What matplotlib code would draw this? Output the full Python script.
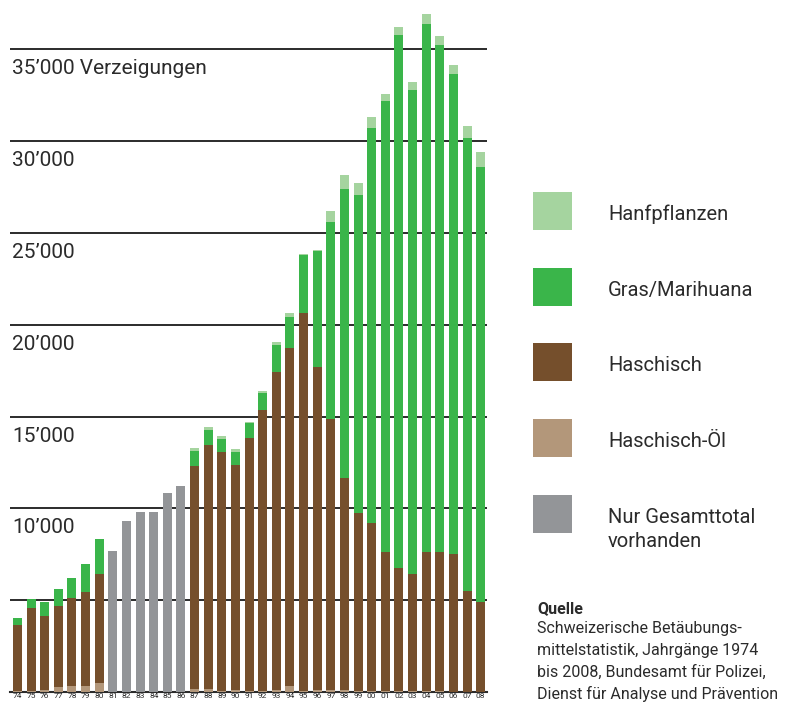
import matplotlib.pyplot as plt
from matplotlib.patches import Rectangle
import numpy as np

plt.rcParams['font.family'] = ['Roboto', 'DejaVu Sans']

# years 1974 - 2008
years = ['74', '75', '76', '77', '78', '79', '80', '81', '82', '83', '84', '85',
         '86', '87', '88', '89', '90', '91', '92', '93', '94', '95', '96', '97',
         '98', '99', '00', '01', '02', '03', '04', '05', '06', '07', '08']

# verzeigungen per substance
oil = [70, 50, 130, 290, 330, 330, 500, 0, 0, 0, 0, 0, 0,
       160, 160, 60, 110, 60, 60, 110, 330, 60, 110, 110, 110, 60,
       50, 50, 50, 50, 60, 60, 20, 0, 20]
haschisch = [3580, 4520, 4010, 4390, 4790, 5120, 5930, 0, 0, 0, 0, 0, 0,
             12140, 13290, 13010, 12250, 13770, 15300, 17320, 18410, 20580,
             17590, 14760, 11550, 9690, 9150, 7580, 6700, 6380, 7570, 7570,
             7500, 5500, 4880]
gras = [380, 500, 760, 920, 1080, 1520, 1900, 0, 0, 0, 0, 0, 0,
        830, 820, 710, 710, 820, 930, 1470, 1680, 3160, 6300, 10730, 15740,
        17320, 21520, 24560, 29030, 26360, 28750, 27610, 26140, 24670, 23700]
hanf = [0, 0, 0, 0, 0, 0, 0, 0, 0, 0, 0, 0, 0,
        170, 160, 160, 170, 50, 100, 160, 220, 60, 70, 600, 760, 650,
        600, 380, 440, 430, 550, 490, 490, 660, 810]
# only the total is known for 1981 - 1986
total_only = [0, 0, 0, 0, 0, 0, 0, 7680, 9310, 9800, 9800, 10840, 11200,
              0, 0, 0, 0, 0, 0, 0, 0, 0, 0, 0, 0, 0,
              0, 0, 0, 0, 0, 0, 0, 0, 0]

grid_values = [5000, 10000, 15000, 20000, 25000, 30000, 35000]
grid_labels = ['', '10\u2019000', '15\u2019000', '20\u2019000', '25\u2019000',
               '30\u2019000', '35\u2019000 Verzeigungen']

legend_labels = [['Hanfpflanzen'], ['Gras/Marihuana'], ['Haschisch'], ['Haschisch-\u00d6l'],
                 ['Nur Gesamttotal', 'vorhanden']]

c_hanf = '#a5d49f'
c_gras = '#3ab54a'
c_hasch = '#754f2c'
c_oil = '#b3977a'
c_gray = '#939598'
c_text = '#2b2b2b'

fig = plt.figure(figsize=(7.86, 7.02), dpi=100)
ax = fig.add_axes([10 / 786, 10 / 702, 477 / 786, 692 / 702])

x = np.arange(len(years))
oil_a = np.array(oil)
hasch_a = np.array(haschisch)
gras_a = np.array(gras)
hanf_a = np.array(hanf)
w = 0.66

ax.bar(x, oil_a, w, color=c_oil, lw=0, zorder=2)
ax.bar(x, hasch_a, w, bottom=oil_a, color=c_hasch, lw=0, zorder=2)
ax.bar(x, gras_a, w, bottom=oil_a + hasch_a, color=c_gras, lw=0, zorder=2)
ax.bar(x, hanf_a, w, bottom=oil_a + hasch_a + gras_a, color=c_hanf, lw=0, zorder=2)
ax.bar(x, total_only, w, color=c_gray, lw=0, zorder=2)

# horizontal lines with labels under them
ax.axhline(0, color=c_text, lw=1.5, zorder=1, clip_on=False)
for v, lab in zip(grid_values, grid_labels):
    ax.axhline(v, color=c_text, lw=1.4, zorder=1)
    ax.annotate(lab, xy=(0, v), xycoords=('axes fraction', 'data'),
                xytext=(2, -10), textcoords='offset pixels', va='top', ha='left',
                fontsize=15, color=c_text)

ax.set_xlim(-0.55, 34.46)
ax.set_ylim(0, 37690)
ax.set_xticks(x, years)
ax.tick_params(axis='x', length=0, pad=1, labelsize=6, labelcolor=c_text)
ax.set_yticks([])
for s in ax.spines.values():
    s.set_visible(False)

# legend and source in pixel coordinates
lg = fig.add_axes([0, 0, 1, 1])
lg.set_xlim(0, 786)
lg.set_ylim(702, 0)
lg.axis('off')
for i, (c, lines) in enumerate(zip([c_hanf, c_gras, c_hasch, c_oil, c_gray], legend_labels)):
    top = 192 + i * 75.7
    lg.add_patch(Rectangle((533, top), 39, 38, color=c, lw=0))
    for j, line in enumerate(lines):
        lg.text(608, top + 28 + j * 24, line, fontsize=14.5, color=c_text,
                va='baseline', ha='left')

lg.text(537, 613, 'Quelle', fontsize=11.5, fontweight='bold', color=c_text, va='baseline')
source = ['Schweizerische Bet\u00e4ubungs-', 'mittelstatistik, Jahrg\u00e4nge 1974',
          'bis 2008, Bundesamt f\u00fcr Polizei,', 'Dienst f\u00fcr Analyse und Pr\u00e4vention']
for i, line in enumerate(source):
    lg.text(537, 633 + i * 22, line, fontsize=11.5, color=c_text, va='baseline')

fig.savefig('out.png', dpi=100)
